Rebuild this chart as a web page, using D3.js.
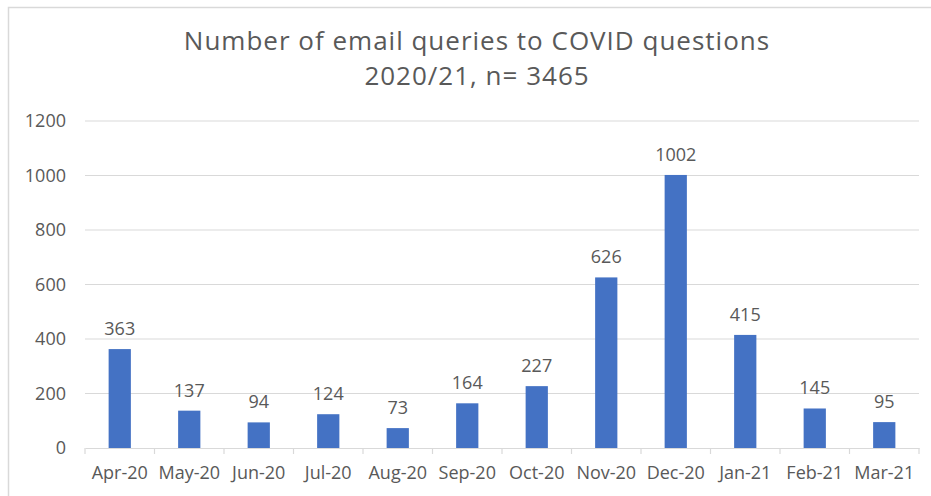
<!DOCTYPE html>
<html><head><meta charset="utf-8">
<script src="https://cdn.jsdelivr.net/npm/d3@7/dist/d3.min.js"></script>
<style>body{margin:0;background:#fff}svg{display:block}text{font-family:"Open Sans",sans-serif;fill:#595959}</style>
</head><body><svg id="c" width="931" height="496"></svg>
<script>
const categories = ["Apr-20","May-20","Jun-20","Jul-20","Aug-20","Sep-20","Oct-20","Nov-20","Dec-20","Jan-21","Feb-21","Mar-21"];
const values = [363,137,94,124,73,164,227,626,1002,415,145,95];
const yTicks = [0,200,400,600,800,1000,1200];
const titleLines = ["Number of email queries to COVID questions","2020/21, n= 3465"];

const svg = d3.select("#c");
svg.append("rect").attr("x",8.5).attr("y",7.5).attr("width",940).attr("height",500)
  .attr("fill","none").attr("stroke","#d9d9d9").attr("stroke-width",1.5);

const x = d3.scaleBand().domain(categories).range([85,919]).paddingInner(0.68).paddingOuter(0.34);
const y = d3.scaleLinear().domain([0,1200]).range([448,121]);

svg.append("g").selectAll("line").data(yTicks.filter(d=>d>0)).join("line")
  .attr("x1",85).attr("x2",919).attr("y1",d=>y(d)).attr("y2",d=>y(d))
  .attr("stroke","#d9d9d9").attr("stroke-width",1.2);

const yAxis = svg.append("g").attr("transform","translate(85,0)")
  .call(d3.axisLeft(y).tickValues(yTicks).tickFormat(d3.format("d")).tickSize(0).tickPadding(19));
yAxis.select(".domain").remove();
yAxis.selectAll("text").style("font-size","18px").attr("fill","#595959");

svg.append("g").selectAll("rect").data(values).join("rect")
  .attr("x",(d,i)=>x(categories[i])).attr("width",x.bandwidth())
  .attr("y",d=>y(d)).attr("height",d=>y(0)-y(d)).attr("fill","#4472c4");

const xb = d3.scaleBand().domain(categories).range([85,919]);
const xAxis = svg.append("g").attr("transform","translate(0,448)")
  .call(d3.axisBottom(xb).tickSize(0).tickPadding(18));
xAxis.select(".domain").attr("stroke","#d9d9d9").attr("stroke-width",1.2);
xAxis.selectAll("text").style("font-size","18px").attr("fill","#595959");
svg.append("g").selectAll("line").data(d3.range(categories.length+1)).join("line")
  .attr("x1",i=>85+i*xb.step()).attr("x2",i=>85+i*xb.step())
  .attr("y1",448).attr("y2",454).attr("stroke","#d9d9d9").attr("stroke-width",1.2);

svg.append("g").selectAll("text").data(values).join("text")
  .attr("x",(d,i)=>x(categories[i])+x.bandwidth()/2).attr("y",d=>y(d)-14)
  .attr("text-anchor","middle").style("font-size","18px").text(d=>d);

svg.append("g").selectAll("text").data(titleLines).join("text")
  .attr("x",477).attr("y",(d,i)=>50+i*35).attr("text-anchor","middle")
  .style("font-size","26px").style("letter-spacing","1px").text(d=>d);
</script></body></html>
